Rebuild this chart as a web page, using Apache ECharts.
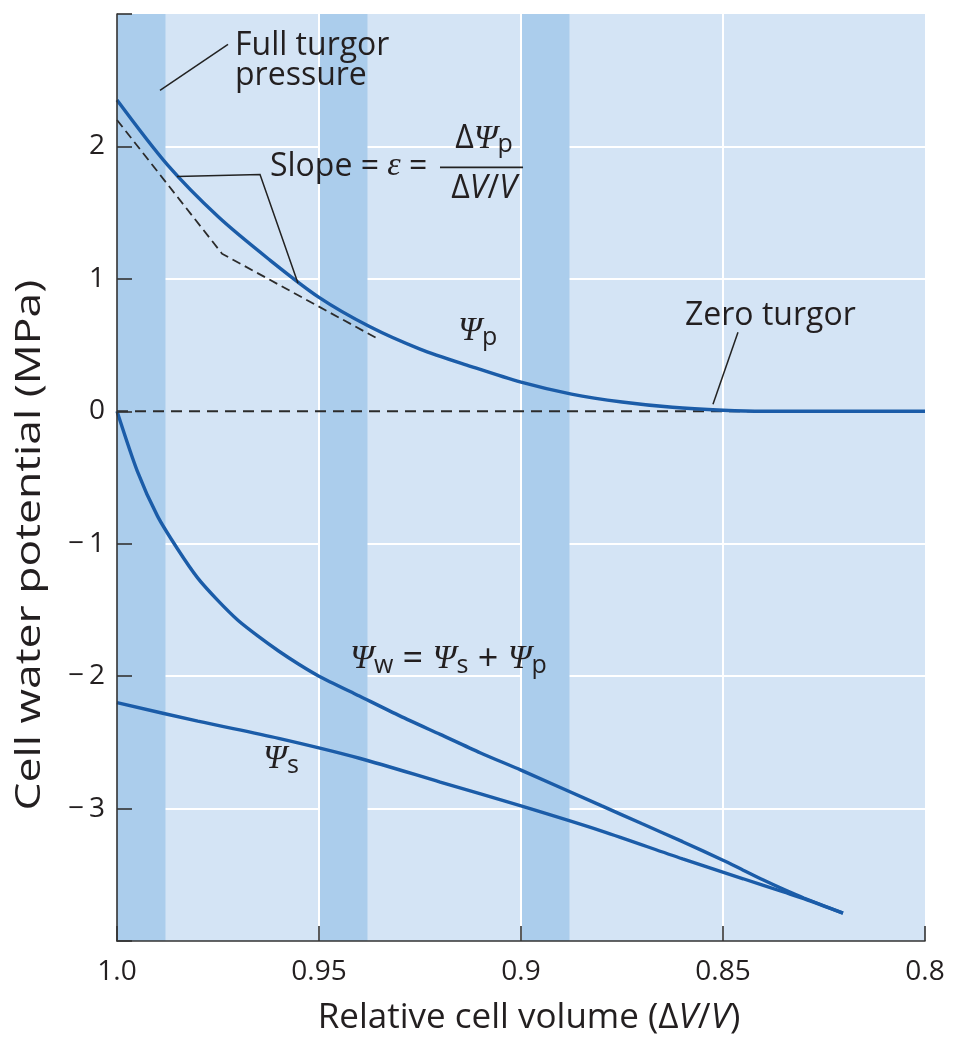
<!DOCTYPE html>
<html><head><meta charset="utf-8">
<script src="https://cdn.jsdelivr.net/npm/echarts@6/dist/echarts.min.js"></script>
<style>html,body{margin:0;padding:0;background:#fff}#c{width:953px;height:1038px}</style>
</head><body><div id="c"></div>
<script>
// ---- data ----
const xTickValues = [1.0, 0.95, 0.9, 0.85, 0.8];
const xTickLabels = ['1.0', '0.95', '0.9', '0.85', '0.8'];
const yTickValues = [-4, -3, -2, -1, 0, 1, 2, 3];
const yTickLabels = ['', '\u2212\u20093', '\u2212\u20092', '\u2212\u20091', '0', '1', '2', ''];
const gridLineY = [-3, -2, -1, 1, 2];
const bandStarts = [1.0, 0.95, 0.9];
const bandEnds = [0.988, 0.938, 0.888];

const psiP = [[1.0,2.35],[0.9875,1.86],[0.975,1.47],[0.9625,1.15],[0.95,0.86],[0.9375,0.64],[0.925,0.47],[0.9125,0.34],[0.9,0.22],[0.8875,0.13],[0.875,0.07],[0.8625,0.03],[0.85,0.008],[0.84,0.0],[0.8,0.0]];
const psiW = [[1.0,0],[0.995,-0.45],[0.99,-0.79],[0.985,-1.04],[0.98,-1.26],[0.975,-1.43],[0.97,-1.58],[0.965,-1.70],[0.96,-1.81],[0.955,-1.91],[0.95,-2.0],[0.94,-2.15],[0.93,-2.30],[0.92,-2.44],[0.91,-2.58],[0.9,-2.71],[0.88,-2.98],[0.87,-3.115],[0.86,-3.25],[0.85,-3.39],[0.845,-3.465],[0.84,-3.54],[0.835,-3.61],[0.83,-3.675],[0.8203,-3.79]];
const psiS = [[1.0,-2.20],[0.98,-2.34],[0.96,-2.47],[0.94,-2.62],[0.92,-2.80],[0.90,-2.98],[0.88,-3.17],[0.86,-3.38],[0.845,-3.53],[0.835,-3.63],[0.83,-3.68],[0.8203,-3.79]];
const tangent = [[1.0,2.2],[0.974,1.19],[0.9356,0.55]];
const zeroLine = [[1.0,0],[0.8,0]];

// ---- style ----
const sans = 'Open Sans';
const serif = 'Liberation Serif';
const ink = '#231f20';
const curveColor = '#1b5ca8';

function lab(vals, labels, v) {
  for (let i = 0; i < vals.length; i++) if (Math.abs(vals[i] - v) < 1e-6) return labels[i];
  return '';
}

const chart = echarts.init(document.getElementById('c'), null, {renderer: 'canvas'});
const option = {
  animation: false,
  backgroundColor: '#fff',
  textStyle: {fontFamily: sans},
  grid: {left: 117, right: 28, top: 14, bottom: 97, show: true, backgroundColor: '#d4e4f5', borderWidth: 0},
  xAxis: {
    type: 'value', min: 0.8, max: 1.0, interval: 0.05, inverse: true, z: 1.8,
    axisLine: {show: true, onZero: false, lineStyle: {color: '#333', width: 1.6}},
    axisTick: {show: true, inside: true, length: 15, lineStyle: {color: '#333', width: 1.6}},
    axisLabel: {formatter: v => lab(xTickValues, xTickLabels, v), fontSize: 28, color: ink, margin: 17, fontFamily: sans},
    splitLine: {show: true, showMinLine: false, showMaxLine: false, lineStyle: {color: '#fff', width: 2}}
  },
  yAxis: {
    type: 'value', min: -4, max: 3, interval: 1, z: 3,
    axisLine: {show: true, onZero: false, lineStyle: {color: '#333', width: 1.6}},
    axisTick: {show: true, inside: true, length: 15, lineStyle: {color: '#333', width: 1.6}},
    axisLabel: {formatter: v => lab(yTickValues, yTickLabels, v), fontSize: 28, color: ink, margin: 12, fontFamily: sans},
    splitLine: {show: false}
  },
  series: [
    {type: 'line', data: [], silent: true,
     markLine: {z: 1, silent: true, symbol: ['none', 'none'], label: {show: false},
       lineStyle: {color: '#fff', width: 2, type: 'solid'}, emphasis: {disabled: true},
       data: gridLineY.map(v => ({yAxis: v}))}},
    {type: 'line', data: [], silent: true,
     markArea: {z: 1.5, silent: true, itemStyle: {color: '#abcdec'}, emphasis: {disabled: true},
       data: bandStarts.map((s, i) => [{xAxis: s}, {xAxis: bandEnds[i]}])}},
    {type: 'line', data: zeroLine, symbol: 'none', silent: true, z: 2,
     lineStyle: {color: '#2b2b2b', width: 2, type: [11, 7]}},
    {type: 'line', data: tangent, symbol: 'none', silent: true, z: 2,
     lineStyle: {color: '#2b2b2b', width: 1.8, type: [9, 5]}},
    {type: 'line', data: psiS, symbol: 'none', smooth: 0.3, silent: true, z: 2.5,
     lineStyle: {color: curveColor, width: 3.4}},
    {type: 'line', data: psiW, symbol: 'none', smooth: 0.25, silent: true, z: 2.5,
     lineStyle: {color: curveColor, width: 3.4}},
    {type: 'line', data: psiP, symbol: 'none', smooth: 0.3, silent: true, z: 2.5,
     lineStyle: {color: curveColor, width: 3.4}}
  ]
};
chart.setOption(option);

// ---- annotations (anchored in data coordinates) ----
function P(x, y) { return chart.convertToPixel({gridIndex: 0}, [x, y]); }
const FS = 32;
const richSet = {
  psi: {fontFamily: serif, fontStyle: 'italic', fontSize: 34, lineHeight: 38, verticalAlign: 'middle', fill: ink},
  sub: {fontFamily: sans, fontSize: 25, lineHeight: 14, verticalAlign: 'bottom', fill: ink},
  op: {fontFamily: sans, fontSize: 36, lineHeight: 38, fill: ink},
  e: {fontFamily: serif, fontStyle: 'italic', fontSize: 34, lineHeight: 38, fill: ink},
  i: {fontFamily: sans, fontStyle: 'italic', fontSize: FS, lineHeight: 38, fill: ink},
  it: {fontFamily: sans, fontStyle: 'italic', fontSize: 35, lineHeight: 40, fill: ink}
};
function txt(x, y, text, align) {
  const p = P(x, y);
  return {type: 'text', x: p[0], y: p[1] - 0.34 * FS, z: 10, silent: true,
    style: {text: text, fill: ink, fontFamily: sans, fontSize: FS, lineHeight: 38,
      align: align || 'left', verticalAlign: 'middle', rich: richSet}};
}
function line(pts, w) {
  return {type: 'polyline', z: 10, silent: true,
    shape: {points: pts.map(q => P(q[0], q[1]))},
    style: {stroke: '#222', lineWidth: w || 1.5, fill: null}};
}
const gridRect = chart.getModel().getComponent('grid').coordinateSystem.getRect();
const graphics = [
  txt(0.97079, 2.679, 'Full turgor'),
  txt(0.97079, 2.453, 'pressure'),
  line([[0.98936, 2.4226], [0.97252, 2.770]]),
  txt(0.96213, 1.766, 'Slope = {e|\u03b5} ='),
  line([[0.92005, 1.8415], [0.8995, 1.8415]], 1.6),
  txt(0.90916, 1.977, '\u0394{psi|\u03a8}{sub|p}', 'center'),
  txt(0.90916, 1.60, '\u0394{i|V}/{i|V}', 'center'),
  line([[0.98515, 1.7736], [0.9646, 1.7887], [0.9552, 0.966]]),
  txt(0.85941, 0.6415, 'Zero turgor'),
  line([[0.84629, 0.5962], [0.85248, 0.0528]]),
  txt(0.91559, 0.5208, '{psi|\u03a8}{sub|p}'),
  txt(0.94233, -1.9547, '{psi|\u03a8}{sub|w}{op| = }{psi|\u03a8}{sub|s}{op| + }{psi|\u03a8}{sub|p}'),
  txt(0.96386, -2.7094, '{psi|\u03a8}{sub|s}'),
  // axis titles
  {type: 'text', x: gridRect.x + gridRect.width / 2 + 8, y: gridRect.y + gridRect.height + 77, z: 10, silent: true,
   style: {text: 'Relative cell volume (\u0394{it|V}/{it|V})', fill: ink, fontFamily: sans, fontSize: 35, lineHeight: 40,
     align: 'center', verticalAlign: 'middle', rich: richSet}},
  {type: 'text', x: 30, y: 545, rotation: Math.PI / 2, scaleX: 1.27, z: 10, silent: true,
   style: {text: 'Cell water potential (MPa)', fill: ink, fontFamily: sans, fontSize: 35,
     align: 'center', verticalAlign: 'middle'}}
];
chart.setOption({graphic: {elements: graphics}});
</script>
</body></html>
